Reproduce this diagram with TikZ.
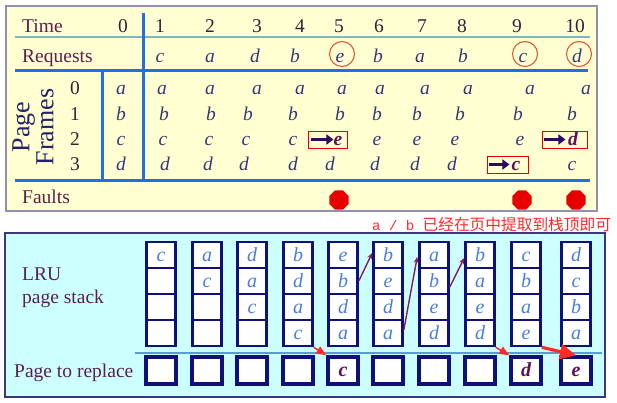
\documentclass[tikz,border=0pt]{standalone}
\usepackage{fontspec}
\setmainfont{Liberation Serif}
\newfontfamily\cjkfont{Noto Sans CJK SC}
\newfontfamily\annmono{Liberation Mono}
\usetikzlibrary{arrows.meta,shapes.geometric}
\definecolor{panelY}{HTML}{FFFFD2}
\definecolor{panelC}{HTML}{CCFFFF}
\definecolor{ruleblue}{HTML}{1F6FE6}
\definecolor{thinrule}{HTML}{7FB4CC}
\definecolor{stackrule}{HTML}{5A9ADA}
\definecolor{labelc}{HTML}{5B1F4F}
\definecolor{numc}{HTML}{2E2440}
\definecolor{letc}{HTML}{36367A}
\definecolor{stackc}{HTML}{4A7FD6}
\definecolor{navy}{HTML}{10107A}
\definecolor{framelbl}{HTML}{22226A}
\definecolor{hot}{HTML}{5E0F55}
\definecolor{arrowdark}{HTML}{2B0B5B}
\definecolor{linkc}{HTML}{8B1A5A}
\definecolor{annred}{HTML}{FF2A2A}
\definecolor{faultred}{HTML}{E60000}
\definecolor{circred}{HTML}{E0502A}
\definecolor{topborder}{HTML}{9090B0}
\definecolor{botborder}{HTML}{3A3A7A}
\begin{document}
\begin{tikzpicture}[x=1pt,y=-1pt,
  lbl/.style={anchor=base west, text=labelc, font=\fontsize{19.5}{21}\selectfont, inner sep=0},
  num/.style={anchor=base, text=numc, font=\fontsize{19.5}{21}\selectfont, inner sep=0},
  let/.style={anchor=base, text=letc, font=\fontsize{19.5}{21}\selectfont\itshape, inner sep=0},
  hotlet/.style={anchor=base, text=hot, font=\fontsize{19.5}{21}\selectfont\bfseries\itshape, inner sep=0},
  thickrule/.style={draw=ruleblue, line width=3pt},
  redbox/.style={draw=red!90!black, line width=0.9pt, minimum height=17pt, inner sep=0},
  fatarrow/.style={draw=arrowdark, line width=3.8pt, -{Triangle[length=7pt,width=10pt]}},
  fault/.style={regular polygon, regular polygon sides=8, minimum size=21pt, fill=faultred, inner sep=0},
  hlcirc/.style={circle, draw=circred, line width=1pt, minimum size=25pt, inner sep=0},
  sbox/.style={draw=navy, line width=2.6pt, fill=white, minimum width=29pt, minimum height=26pt,
    inner sep=0, text height=12pt, text depth=0pt, text=stackc, font=\fontsize{20}{21}\selectfont\itshape},
  rbox/.style={draw=navy, line width=3.4pt, fill=white, minimum width=30pt, minimum height=27pt,
    inner sep=0, text height=12pt, text depth=0pt, text=hot, font=\fontsize{20}{21}\selectfont\bfseries\itshape},
  link/.style={draw=linkc, line width=1.4pt, -{Stealth[length=6pt,width=5pt]}},
  redarrow/.style={draw=annred, line width=1.6pt, -{Triangle[length=10pt,width=8pt]}},
  bigredarrow/.style={draw=annred, line width=3.2pt, -{Triangle[length=16pt,width=15pt]}}
]
\useasboundingbox (0,0) rectangle (617,403);
% ---------------- top panel ----------------
\draw[fill=panelY, draw=topborder, line width=1.8pt] (6,6) rectangle (597,211);
\draw[draw=thinrule, line width=1.3pt] (15,37) -- (590,37);
\draw[thickrule] (15,71) -- (588,71);
\draw[thickrule] (15,181) -- (590,181);
\draw[thickrule] (143,13) -- (143,181);
\draw[thickrule] (102,71) -- (102,181);

\node[lbl] (time) at (22,33) {Time};
\node[lbl] (req) at (22,63) {Requests};
\node[lbl] (faults) at (22,204) {Faults};
\node[rotate=90, align=center, text=framelbl, font=\fontsize{26}{24}\selectfont, inner sep=0] (pf) at (33,127) {Page\\Frames};

\node[num] (t0) at (123,33) {0};
\foreach \i/\x in {1/160,2/210,3/257,4/300,5/339,6/379,7/422,8/462,9/517,10/575}
  \node[num] (t\i) at (\x,33) {\i};

\foreach \i/\x/\l in {1/160/c,2/210/a,3/255/d,4/295/b,5/340/e,6/378/b,7/420/a,8/463/b,9/523/c,10/577/d}
  \node[let] (q\i) at (\x,63) {\l};

\foreach \r/\y in {0/95,1/120.5,2/146,3/171}
  \node[num] (rn\r) at (75,\y) {\r};
\foreach \r/\y/\l in {0/95/a,1/120.5/b,2/146/c,3/171/d}
  \node[let] (f0r\r) at (121,\y) {\l};

% row 0
\foreach \i/\x in {1/162,2/210,3/257,4/300,5/342,6/380,7/425,8/468,9/530,10/586}
  \node[let] (f\i r0) at (\x,95) {a};
% row 1
\foreach \i/\x in {1/164,2/211,3/248,4/293,5/340,6/377,7/417,8/460,9/518,10/572}
  \node[let] (f\i r1) at (\x,120.5) {b};
% row 2
\foreach \i/\x/\l in {1/163/c,2/209/c,3/246/c,4/293/c,6/377/e,7/417/e,8/455/e,9/520/e}
  \node[let] (f\i r2) at (\x,146) {\l};
% row 3
\foreach \i/\x/\l in {1/165/d,2/208/d,3/244/d,4/293/d,5/330/d,6/375/d,7/415/d,8/452/d,10/572/c}
  \node[let] (f\i r3) at (\x,171) {\l};

% replaced frames
\node[redbox, minimum width=39pt] (x5) at (327.5,139.5) {};
\node[hotlet] (f5r2) at (338,146) {e};
\draw[fatarrow] ([xshift=3pt]x5.west) -- ([xshift=-14pt]x5.east);

\node[redbox, minimum width=45pt] (x10) at (564.5,139.5) {};
\node[hotlet] (f10r2) at (573,146) {d};
\draw[fatarrow] ([xshift=2pt]x10.west) -- ([xshift=-22pt]x10.east);

\node[redbox, minimum width=41pt] (x9) at (507.5,164.5) {};
\node[hotlet] (f9r3) at (516,171) {c};
\draw[fatarrow] ([xshift=2pt]x9.west) -- ([xshift=-19pt]x9.east);

% request highlights
\node[hlcirc] (h5) at (342,54) {};
\node[hlcirc] (h9) at (525,54) {};
\node[hlcirc] (h10) at (579,54) {};

% faults
\node[fault] (fd5) at (339,200) {};
\node[fault] (fd9) at (522,200) {};
\node[fault] (fd10) at (576,200) {};

% annotation
\node[anchor=base west, text=annred, inner sep=0] (note) at (372,230)
  {{\annmono\fontsize{14}{16}\selectfont a / b }{\cjkfont\fontsize{15.7}{17}\selectfont 已经在页中提取到栈顶即可}};

% ---------------- bottom panel ----------------
\draw[fill=panelC, draw=botborder, line width=1.5pt] (5,233) rectangle (605,397);
\draw[draw=stackrule, line width=1.3pt] (135,353) -- (602,353);

\node[lbl] (lru) at (22,280) {LRU};
\node[lbl] (pstack) at (22,303) {page stack};
\node[lbl] (prep) at (14,377) {Page to replace};

\foreach \c/\x/\ra/\rb/\rc/\rd in {1/161/c/{}/{}/{}, 2/207/a/c/{}/{}, 3/252/d/a/c/{}, 4/298/b/d/a/c,
   5/343/e/b/d/a, 6/388/b/e/d/a, 7/434/a/b/e/d, 8/480/b/a/e/d, 9/526/c/b/a/e, 10/576/d/c/b/a}{
  \node[sbox] (s\c-1) at (\x,255) {\ra};
  \node[sbox] (s\c-2) at (\x,281) {\rb};
  \node[sbox] (s\c-3) at (\x,307) {\rc};
  \node[sbox] (s\c-4) at (\x,333) {\rd};
}
\foreach \c/\x/\l in {1/161/{},2/207/{},3/252/{},4/298/{},5/343/c,6/388/{},7/434/{},8/480/{},9/526/d,10/576/e}
  \node[rbox] (r\c) at (\x,370.5) {\l};

% moves to stack top
\draw[link] (s5-2.east) -- ([yshift=2pt]s6-1.west);
\draw[link] ([yshift=3pt]s6-4.east) -- ([xshift=-1pt,yshift=-2pt]s7-1.west);
\draw[link] ([yshift=-6pt]s7-2.east) -- ([yshift=-3pt]s8-1.west);

% pages to replace
\draw[redarrow] (s4-4.south east) -- (r5.north west);
\draw[redarrow] (s8-4.south east) -- (r9.north west);
\draw[bigredarrow] (s9-4.south east) -- (r10.north);
\end{tikzpicture}
\end{document}
